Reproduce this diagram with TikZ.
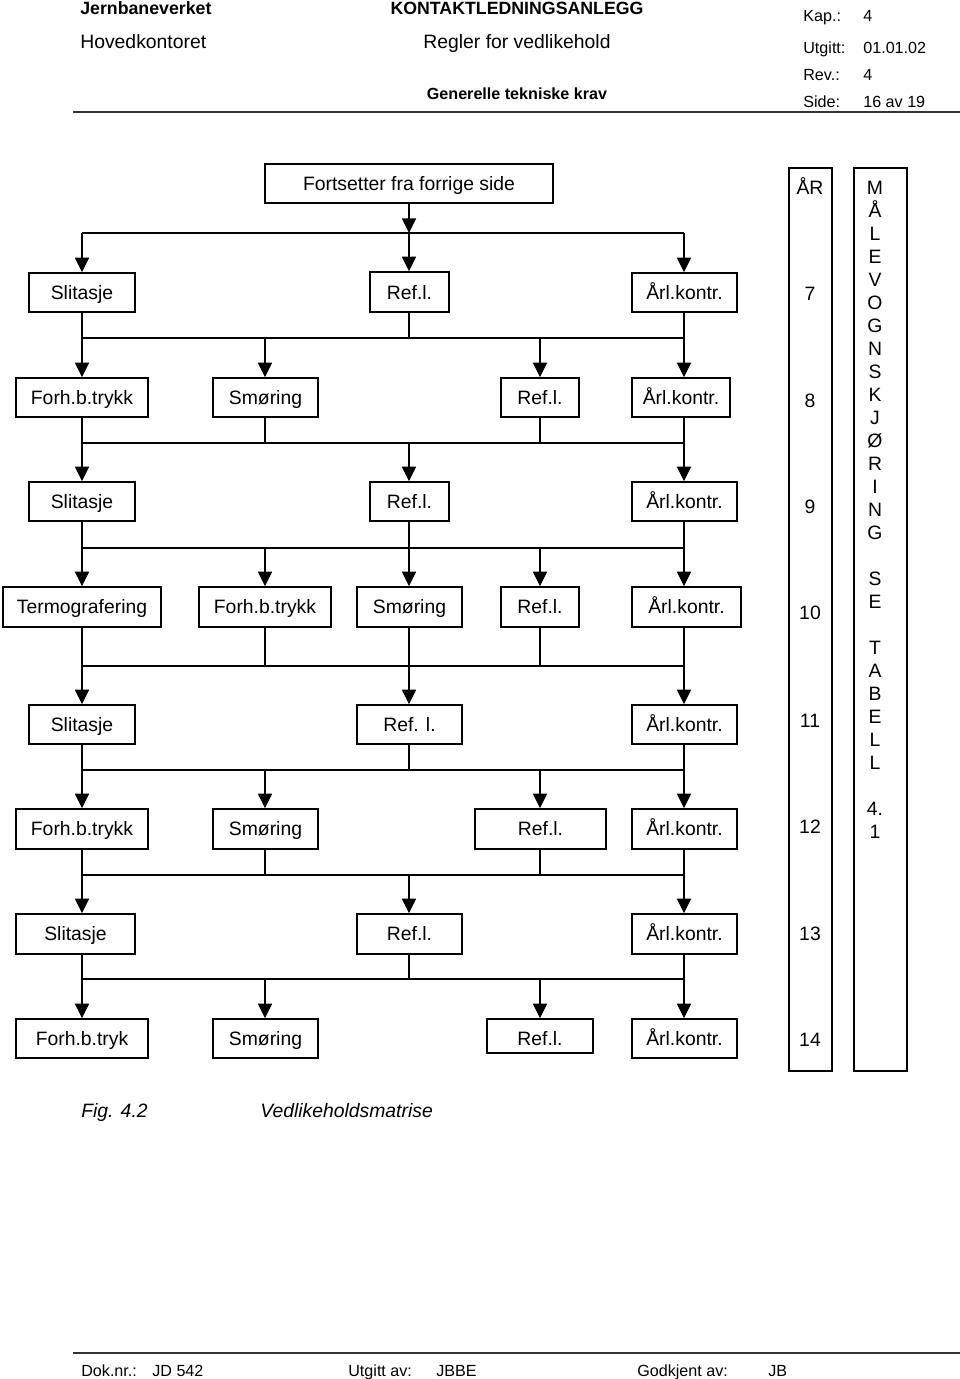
\documentclass[tikz,border=0pt]{standalone}
\usepackage{fontspec}
\setmainfont{Liberation Sans}
\usetikzlibrary{arrows.meta}
\newcommand\mybox[6]{%
  \pgfmathsetmacro\myw{(#4-#2)*0.62}%
  \pgfmathsetmacro\myh{(#5-#3)*0.62}%
  \node[box, minimum width=\myw pt, minimum height=\myh pt] (#1) at ({(#2+#4)/2},{(#3+#5)/2}) {#6};%
}
\tikzset{
  box/.style={draw, line width=1pt, inner sep=0pt, font=\fontsize{12}{14}\selectfont, text height=8.6pt, text depth=0pt},
  conn/.style={line width=0.8pt},
  arr/.style={conn, -{Triangle[length=9pt,width=8.7pt]}},
  lbl/.style={inner sep=0pt, font=\fontsize{12}{14}\selectfont, text height=8.6pt, text depth=0pt},
  hdb/.style={inner sep=0pt, font=\fontsize{11}{13}\selectfont\bfseries, text height=7.9pt, text depth=0pt},
  hdr/.style={inner sep=0pt, font=\fontsize{12}{14}\selectfont, text height=8.6pt, text depth=0pt},
  hds/.style={inner sep=0pt, font=\fontsize{10}{12}\selectfont, text height=7.2pt, text depth=0pt, anchor=west},
  rule/.style={line width=1pt, draw=black!80},
}
\begin{document}
\begin{tikzpicture}[x=0.62pt, y=-0.62pt]
\fill[white] (0,0) rectangle (960,1379);
\useasboundingbox (0,0) rectangle (960,1379);

% header
\node[hdb, anchor=west] (h1) at (80,8) {Jernbaneverket};
\node[hdb] (h2) at (517,8) {KONTAKTLEDNINGSANLEGG};
\node[hdr, anchor=west] (h3) at (80,42) {Hovedkontoret};
\node[hdr] (h4) at (517,42) {Regler for vedlikehold};
\node[inner sep=0pt, font=\fontsize{10}{12}\selectfont\bfseries, text height=7.2pt, text depth=0pt] (h5) at (517,94) {Generelle tekniske krav};
\node[hds] (k1) at (803,16) {Kap.:};
\node[hds] (k2) at (863,16) {4};
\node[hds] (k3) at (803,48) {Utgitt:};
\node[hds] (k4) at (863,48) {01.01.02};
\node[hds] (k5) at (803,75) {Rev.:};
\node[hds] (k6) at (863,75) {4};
\node[hds] (k7) at (803,102) {Side:};
\node[hds] (k8) at (863,102) {16 av 19};
\coordinate (hl1) at (73,112);
\coordinate (hl2) at (960,112);
\draw[rule] (hl1) -- (hl2);

% footer
\coordinate (fl1) at (73,1353);
\coordinate (fl2) at (960,1353);
\draw[rule] (fl1) -- (fl2);
\node[hds] (f1) at (81,1371) {Dok.nr.:};
\node[hds] (f2) at (152,1371) {JD 542};
\node[hds] (f3) at (348,1371) {Utgitt av:};
\node[hds] (f4) at (436,1371) {JBBE};
\node[hds] (f5) at (637,1371) {Godkjent av:};
\node[hds] (f6) at (768,1371) {JB};

% columns and buses
\coordinate (c1) at (82,0);
\coordinate (c2) at (265,0);
\coordinate (c3) at (409,0);
\coordinate (c4) at (540,0);
\coordinate (c5) at (684,0);
\coordinate (b0) at (0,233);
\coordinate (b1) at (0,338);
\coordinate (b2) at (0,443);
\coordinate (b3) at (0,548);
\coordinate (b4) at (0,666);
\coordinate (b5) at (0,770);
\coordinate (b6) at (0,875);
\coordinate (b7) at (0,979);

% boxes
\mybox{fort}{265}{164}{553}{203}{Fortsetter fra forrige side}
\mybox{s1}{29}{273}{135}{312}{Slitasje}
\mybox{r1}{370}{272}{449}{312}{\raisebox{-0.3pt}{Ref.l.}}
\mybox{a1}{632}{273}{737}{312}{Årl.kontr.}
\mybox{f2}{16}{378}{148}{417}{Forh.b.trykk}
\mybox{m2}{213}{378}{318}{417}{Smøring}
\mybox{r2}{501}{378}{579}{417}{Ref.l.}
\mybox{a2}{632}{378}{730}{417}{Årl.kontr.}
\mybox{s3}{29}{482}{135}{521}{Slitasje}
\mybox{r3}{370}{482}{449}{521}{Ref.l.}
\mybox{a3}{632}{482}{737}{521}{Årl.kontr.}
\mybox{t4}{3}{587}{161}{627}{Termografering}
\mybox{f4}{199}{587}{331}{627}{Forh.b.trykk}
\mybox{m4}{357}{587}{462}{627}{Smøring}
\mybox{r4}{501}{587}{579}{627}{Ref.l.}
\mybox{a4}{632}{587}{741}{627}{Årl.kontr.}
\mybox{s5}{29}{705}{135}{744}{Slitasje}
\mybox{r5}{357}{705}{462}{744}{Ref. l.}
\mybox{a5}{632}{705}{737}{744}{Årl.kontr.}
\mybox{f6}{16}{809}{148}{849}{Forh.b.trykk}
\mybox{m6}{213}{809}{318}{849}{Smøring}
\mybox{r6}{475}{809}{606}{849}{Ref.l.}
\mybox{a6}{632}{809}{737}{849}{Årl.kontr.}
\mybox{s7}{16}{914}{135}{954}{Slitasje}
\mybox{r7}{357}{914}{462}{954}{Ref.l.}
\mybox{a7}{632}{914}{737}{954}{Årl.kontr.}
\mybox{f8}{16}{1019}{148}{1058}{Forh.b.tryk}
\mybox{m8}{213}{1019}{318}{1058}{Smøring}
\mybox{r8}{487}{1019}{593}{1053}{\raisebox{-1.55pt}{Ref.l.}}
\mybox{a8}{632}{1019}{737}{1058}{Årl.kontr.}

% right columns
\mybox{yr}{789}{168}{832}{1071}{}
\mybox{mv}{854}{168}{907}{1071}{}
\foreach \t/\yy [count=\k] in {ÅR/188, 7/294, 8/401, 9/507, 10/613, 11/721, 12/827, 13/934, 14/1040}
  \node[lbl] (yt\k) at (810,\yy) {\t};
\foreach \t/\i [count=\k] in {M/0, Å/1, L/2, E/3, V/4, O/5, G/6, N/7, S/8, K/9, J/10, Ø/11, R/12, I/13, N/14, G/15, S/17, E/18, T/20, A/21, B/22, E/23, L/24, L/25, 4./27, 1/28}
  \node[lbl] (mt\k) at (875,{188+\i*23}) {\t};

% connectors
\draw[arr] (c3 |- fort.south) -- (c3 |- b0);
\draw[conn] (c1 |- b0) -- (c5 |- b0);
\foreach \c/\n in {c1/s1, c3/r1, c5/a1} \draw[arr] (\c |- b0) -- (\c |- \n.north);
\foreach \c/\n in {c1/s1, c3/r1, c5/a1} \draw[conn] (\c |- \n.south) -- (\c |- b1);
\draw[conn] (c1 |- b1) -- (c5 |- b1);
\foreach \c/\n in {c1/f2, c2/m2, c4/r2, c5/a2} \draw[arr] (\c |- b1) -- (\c |- \n.north);
\foreach \c/\n in {c1/f2, c2/m2, c4/r2, c5/a2} \draw[conn] (\c |- \n.south) -- (\c |- b2);
\draw[conn] (c1 |- b2) -- (c5 |- b2);
\foreach \c/\n in {c1/s3, c3/r3, c5/a3} \draw[arr] (\c |- b2) -- (\c |- \n.north);
\foreach \c/\n in {c1/s3, c3/r3, c5/a3} \draw[conn] (\c |- \n.south) -- (\c |- b3);
\draw[conn] (c1 |- b3) -- (c5 |- b3);
\foreach \c/\n in {c1/t4, c2/f4, c3/m4, c4/r4, c5/a4} \draw[arr] (\c |- b3) -- (\c |- \n.north);
\foreach \c/\n in {c1/t4, c2/f4, c3/m4, c4/r4, c5/a4} \draw[conn] (\c |- \n.south) -- (\c |- b4);
\draw[conn] (c1 |- b4) -- (c5 |- b4);
\foreach \c/\n in {c1/s5, c3/r5, c5/a5} \draw[arr] (\c |- b4) -- (\c |- \n.north);
\foreach \c/\n in {c1/s5, c3/r5, c5/a5} \draw[conn] (\c |- \n.south) -- (\c |- b5);
\draw[conn] (c1 |- b5) -- (c5 |- b5);
\foreach \c/\n in {c1/f6, c2/m6, c4/r6, c5/a6} \draw[arr] (\c |- b5) -- (\c |- \n.north);
\foreach \c/\n in {c1/f6, c2/m6, c4/r6, c5/a6} \draw[conn] (\c |- \n.south) -- (\c |- b6);
\draw[conn] (c1 |- b6) -- (c5 |- b6);
\foreach \c/\n in {c1/s7, c3/r7, c5/a7} \draw[arr] (\c |- b6) -- (\c |- \n.north);
\foreach \c/\n in {c1/s7, c3/r7, c5/a7} \draw[conn] (\c |- \n.south) -- (\c |- b7);
\draw[conn] (c1 |- b7) -- (c5 |- b7);
\foreach \c/\n in {c1/f8, c2/m8, c4/r8, c5/a8} \draw[arr] (\c |- b7) -- (\c |- \n.north);

% caption
\node[lbl, anchor=west, font=\fontsize{12}{14}\selectfont\itshape] (cap1) at (81,1111) {Fig. 4.2};
\node[lbl, anchor=west, font=\fontsize{12}{14}\selectfont\itshape] (cap2) at (260,1111) {Vedlikeholdsmatrise};
\end{tikzpicture}
\end{document}
